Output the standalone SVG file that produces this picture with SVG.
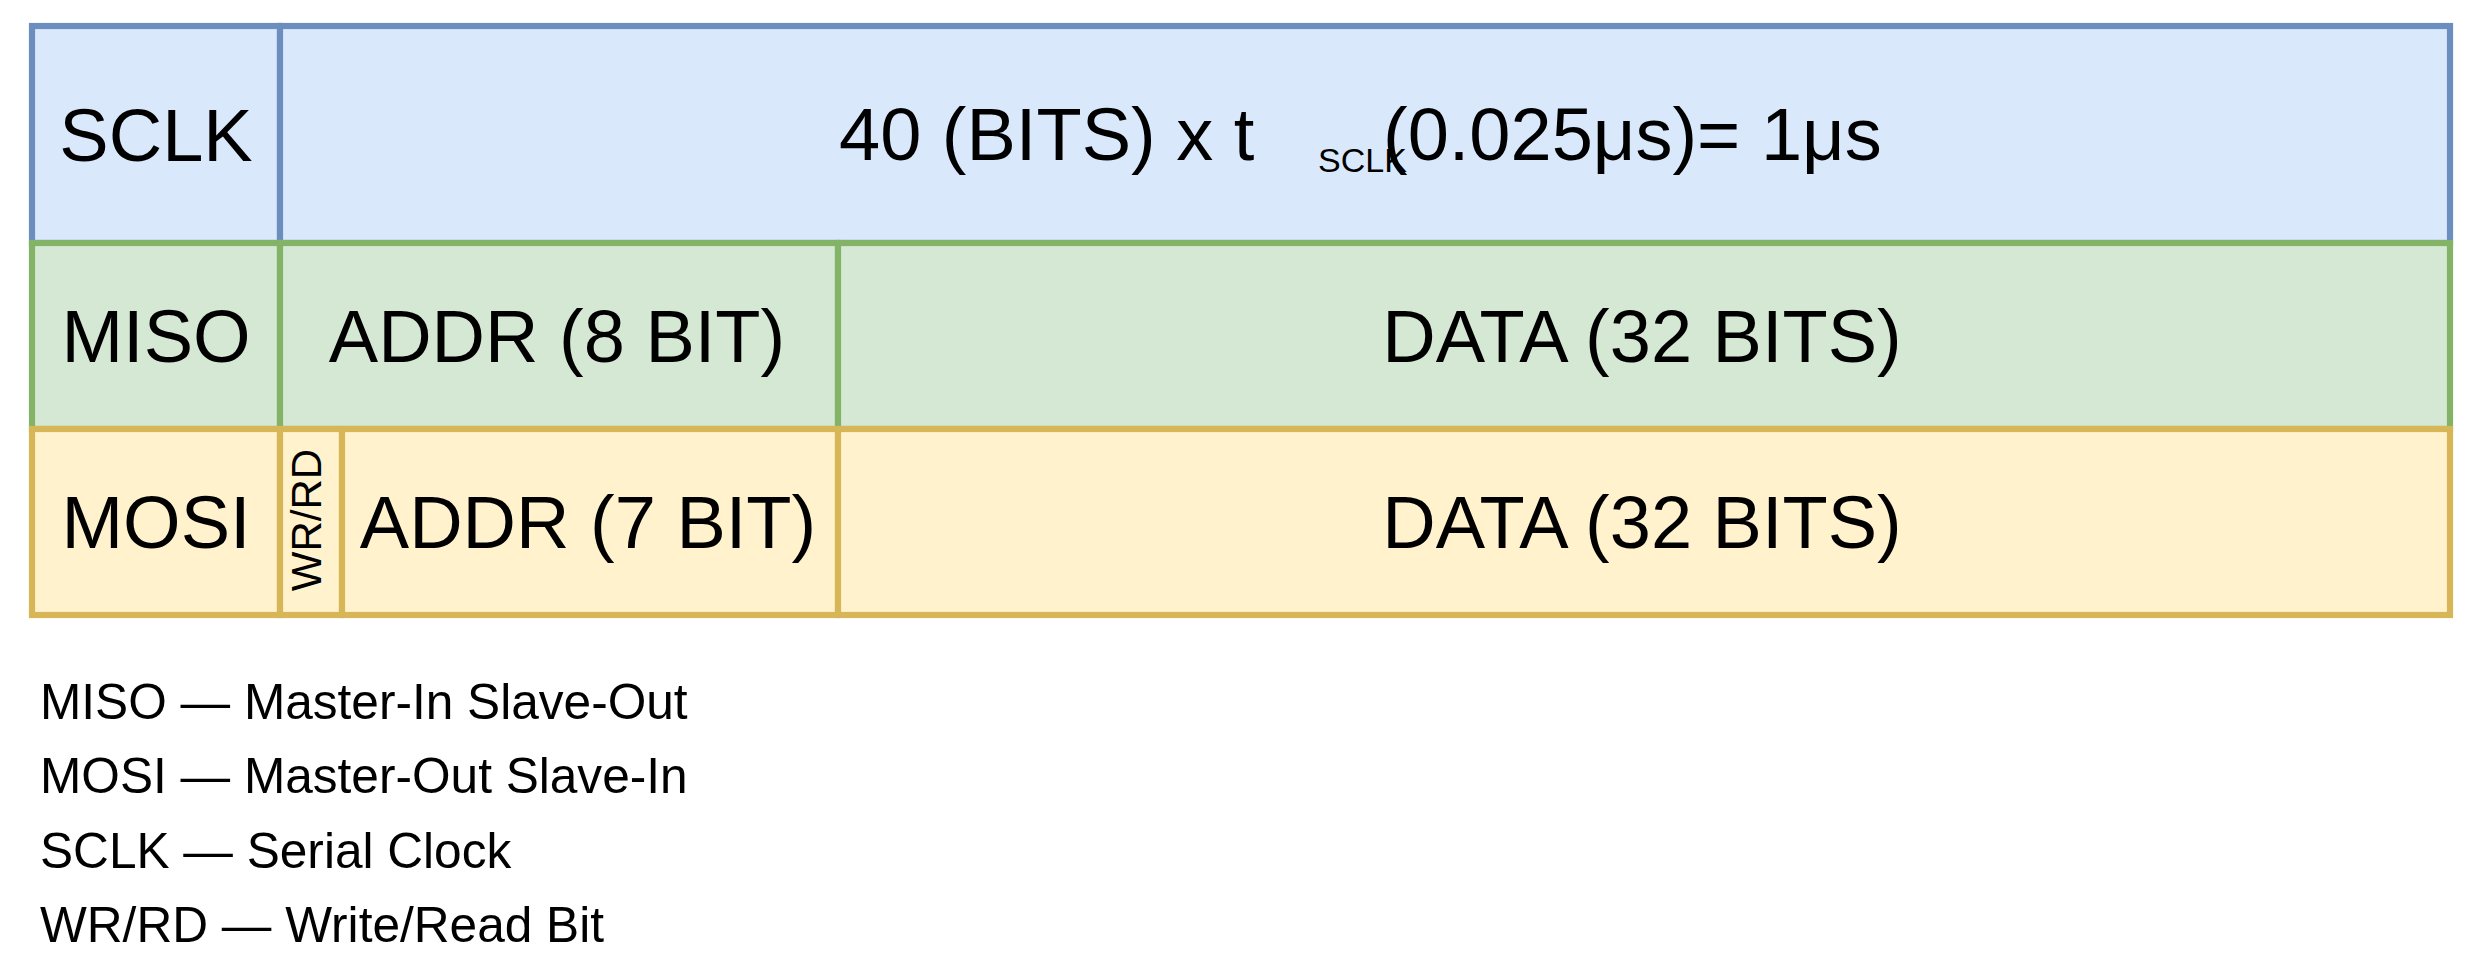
<svg xmlns="http://www.w3.org/2000/svg" width="2481" height="968" viewBox="0 0 2481 968">
<style>
.blue{fill:#dae8fc;stroke:#6c8ebf;stroke-width:6.2}
.green{fill:#d5e8d4;stroke:#82b366;stroke-width:6.2}
.yellow{fill:#fff2cc;stroke:#d6b656;stroke-width:6.2}
text{font-family:"Liberation Sans",Arial,Helvetica,sans-serif;fill:#000}
.big{font-size:74px}
.mid{text-anchor:middle}
.leg{font-size:49.6px}
</style>
<rect width="2481" height="968" fill="#ffffff"/>
<g id="connectors"/>
<g id="sclk-label"><rect class="blue" x="32" y="26" width="248" height="217"/><text class="big mid" x="156" y="161">SCLK</text></g>
<g id="sclk-content"><rect class="blue" x="280" y="26" width="2170" height="217"/>
<text class="big" x="839" y="160">40 (BITS) x t</text>
<text x="1318" y="172" style="font-size:34px">SCLK</text>
<text class="big" x="1383" y="160">(0.025μs)= 1μs</text></g>
<g id="miso-label"><rect class="green" x="32" y="243" width="248" height="186"/><text class="big mid" x="156" y="362">MISO</text></g>
<g id="miso-addr"><rect class="green" x="280" y="243" width="558" height="186"/><text class="big mid" x="557" y="362">ADDR (8 BIT)</text></g>
<g id="miso-data"><rect class="green" x="838" y="243" width="1612" height="186"/><text class="big mid" x="1642" y="362">DATA (32 BITS)</text></g>
<g id="mosi-label"><rect class="yellow" x="32" y="429" width="248" height="186"/><text class="big mid" x="156" y="548">MOSI</text></g>
<g id="mosi-wrrd"><rect class="yellow" x="280" y="429" width="62" height="186"/><text class="mid" style="font-size:42px" transform="translate(321,520) rotate(-90)">WR/RD</text></g>
<g id="mosi-addr"><rect class="yellow" x="342" y="429" width="496" height="186"/><text class="big mid" x="588" y="548">ADDR (7 BIT)</text></g>
<g id="mosi-data"><rect class="yellow" x="838" y="429" width="1612" height="186"/><text class="big mid" x="1642" y="548">DATA (32 BITS)</text></g>
<g id="legend">
<text class="leg" x="40" y="719">MISO — Master-In Slave-Out</text>
<text class="leg" x="40" y="793">MOSI — Master-Out Slave-In</text>
<text class="leg" x="40" y="868">SCLK — Serial Clock</text>
<text class="leg" x="40" y="942">WR/RD — Write/Read Bit</text>
</g>
</svg>
